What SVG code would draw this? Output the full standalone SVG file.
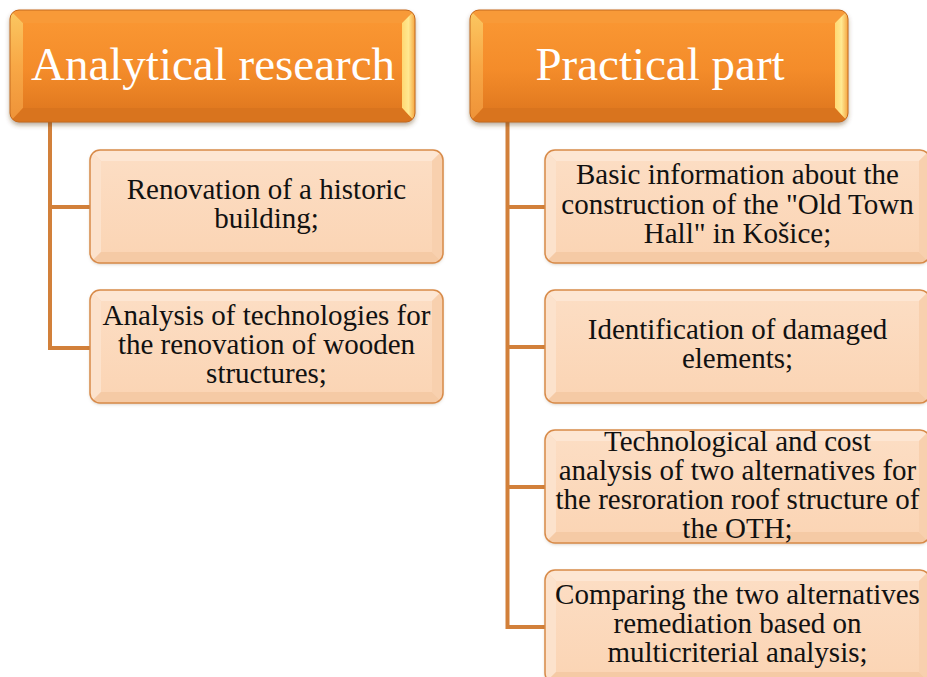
<svg xmlns="http://www.w3.org/2000/svg" xmlns:xlink="http://www.w3.org/1999/xlink" width="927" height="677" viewBox="0 0 927 677">
  <style>
    .head-text { font-family: "Liberation Serif", "Times New Roman", serif; font-size: 47px; fill: #ffffff; text-anchor: middle; }
    .item-text { font-family: "Liberation Serif", "Times New Roman", serif; font-size: 29px; fill: #111111; text-anchor: middle; }
    .link { fill: none; stroke: #D2803A; stroke-width: 4; stroke-linejoin: miter; }
  </style>
  <defs>
    <filter id="headShadow" x="-10%" y="-20%" width="120%" height="150%">
      <feDropShadow dx="0" dy="3" stdDeviation="2.5" flood-color="#5a3a1a" flood-opacity="0.45"/>
    </filter>
    <filter id="itemShadow" x="-10%" y="-20%" width="120%" height="150%">
      <feDropShadow dx="0" dy="1.5" stdDeviation="1.5" flood-color="#7a5a3a" flood-opacity="0.3"/>
    </filter>

    <linearGradient id="headFace" x1="0" y1="0" x2="0" y2="1">
      <stop offset="0" stop-color="#F99632"/>
      <stop offset="0.55" stop-color="#F48C2A"/>
      <stop offset="1" stop-color="#E27A20"/>
    </linearGradient>
    <linearGradient id="headLeft" x1="0" y1="0" x2="0" y2="1">
      <stop offset="0" stop-color="#FBC862"/>
      <stop offset="0.5" stop-color="#F8A846"/>
      <stop offset="1" stop-color="#EE9238"/>
    </linearGradient>
    <linearGradient id="headRight" x1="0" y1="0" x2="1" y2="0">
      <stop offset="0" stop-color="#FFD873"/>
      <stop offset="0.5" stop-color="#FFE890"/>
      <stop offset="1" stop-color="#F6A540"/>
    </linearGradient>
    <linearGradient id="itemFace" x1="0" y1="0" x2="0" y2="1">
      <stop offset="0" stop-color="#FCDDC3"/>
      <stop offset="1" stop-color="#FBD5B5"/>
    </linearGradient>

    <clipPath id="clipHeadL"><rect x="0" y="0" width="405" height="112" rx="9"/></clipPath>
    <clipPath id="clipHeadR"><rect x="0" y="0" width="378" height="112" rx="9"/></clipPath>
    <clipPath id="clipItemL"><rect x="0" y="0" width="353" height="113" rx="10"/></clipPath>
    <clipPath id="clipItemR"><rect x="0" y="0" width="385" height="113" rx="10"/></clipPath>

    <!-- bevelled orange title block, 405 wide -->
    <g id="headShapeL">
      <g filter="url(#headShadow)">
        <rect x="0" y="0" width="405" height="112" rx="9" fill="#EE8526"/>
      </g>
      <g clip-path="url(#clipHeadL)">
        <rect x="13" y="13" width="379" height="85" fill="url(#headFace)"/>
        <polygon points="0,0 405,0 392,13 13,13" fill="#F89A38"/>
        <polygon points="0,0 13,13 13,98 0,112" fill="url(#headLeft)"/>
        <polygon points="405,0 392,13 392,98 405,112" fill="url(#headRight)"/>
        <polygon points="0,112 13,98 392,98 405,112" fill="#D9741E"/>
      </g>
      <rect x="0" y="0" width="405" height="112" rx="9" fill="none" stroke="#C46A1E" stroke-width="1"/>
    </g>

    <!-- bevelled orange title block, 378 wide -->
    <g id="headShapeR">
      <g filter="url(#headShadow)">
        <rect x="0" y="0" width="378" height="112" rx="9" fill="#EE8526"/>
      </g>
      <g clip-path="url(#clipHeadR)">
        <rect x="13" y="13" width="352" height="85" fill="url(#headFace)"/>
        <polygon points="0,0 378,0 365,13 13,13" fill="#F89A38"/>
        <polygon points="0,0 13,13 13,98 0,112" fill="url(#headLeft)"/>
        <polygon points="378,0 365,13 365,98 378,112" fill="url(#headRight)"/>
        <polygon points="0,112 13,98 365,98 378,112" fill="#D9741E"/>
      </g>
      <rect x="0" y="0" width="378" height="112" rx="9" fill="none" stroke="#C46A1E" stroke-width="1"/>
    </g>

    <!-- peach item box, 353 wide -->
    <g id="itemShapeL">
      <g filter="url(#itemShadow)">
        <rect x="0" y="0" width="353" height="113" rx="10" fill="#FBD9BC"/>
      </g>
      <g clip-path="url(#clipItemL)">
        <rect x="11" y="11" width="331" height="91" fill="url(#itemFace)"/>
        <polygon points="0,0 353,0 342,11 11,11" fill="#FDE6D3"/>
        <polygon points="0,0 11,11 11,102 0,113" fill="#FCE2CC"/>
        <polygon points="353,0 342,11 342,102 353,113" fill="#F8D0AE"/>
        <polygon points="0,113 11,102 342,102 353,113" fill="#F5CAA5"/>
      </g>
      <rect x="0" y="0" width="353" height="113" rx="10" fill="none" stroke="#D88A48" stroke-width="1.5"/>
    </g>

    <!-- peach item box, 385 wide -->
    <g id="itemShapeR">
      <g filter="url(#itemShadow)">
        <rect x="0" y="0" width="385" height="113" rx="10" fill="#FBD9BC"/>
      </g>
      <g clip-path="url(#clipItemR)">
        <rect x="11" y="11" width="363" height="91" fill="url(#itemFace)"/>
        <polygon points="0,0 385,0 374,11 11,11" fill="#FDE6D3"/>
        <polygon points="0,0 11,11 11,102 0,113" fill="#FCE2CC"/>
        <polygon points="385,0 374,11 374,102 385,113" fill="#F8D0AE"/>
        <polygon points="0,113 11,102 374,102 385,113" fill="#F5CAA5"/>
      </g>
      <rect x="0" y="0" width="385" height="113" rx="10" fill="none" stroke="#D88A48" stroke-width="1.5"/>
    </g>
  </defs>

  <rect x="0" y="0" width="927" height="677" fill="#ffffff"/>

  <!-- hierarchy lines -->
  <g id="connectors">
    <path class="link" d="M50 122 V348 H90 M50 207 H90"/>
    <path class="link" d="M507.5 122 V627 H545 M507.5 207 H545 M507.5 347 H545 M507.5 487 H545"/>
  </g>

  <!-- left column -->
  <g id="analytical-research" transform="translate(10,10)">
    <use xlink:href="#headShapeL"/>
    <text class="head-text" x="203" y="70">Analytical research</text>
  </g>

  <g id="renovation-historic" transform="translate(90,150)">
    <use xlink:href="#itemShapeL"/>
    <text class="item-text" x="176.5" y="49">Renovation of a historic</text>
    <text class="item-text" x="176.5" y="78">building;</text>
  </g>

  <g id="analysis-technologies" transform="translate(90,290)">
    <use xlink:href="#itemShapeL"/>
    <text class="item-text" x="176.5" y="34.5">Analysis of technologies for</text>
    <text class="item-text" x="176.5" y="63.5">the renovation of wooden</text>
    <text class="item-text" x="176.5" y="92.5">structures;</text>
  </g>

  <!-- right column -->
  <g id="practical-part" transform="translate(470,10)">
    <use xlink:href="#headShapeR"/>
    <text class="head-text" x="190" y="70">Practical part</text>
  </g>

  <g id="basic-information" transform="translate(545,150)">
    <use xlink:href="#itemShapeR"/>
    <text class="item-text" x="192.5" y="34">Basic information about the</text>
    <text class="item-text" x="192.5" y="63.5">construction of the "Old Town</text>
    <text class="item-text" x="192.5" y="93">Hall" in Košice;</text>
  </g>

  <g id="damaged-elements" transform="translate(545,290)">
    <use xlink:href="#itemShapeR"/>
    <text class="item-text" x="192.5" y="49">Identification of damaged</text>
    <text class="item-text" x="192.5" y="78">elements;</text>
  </g>

  <g id="cost-analysis" transform="translate(545,430)">
    <use xlink:href="#itemShapeR"/>
    <text class="item-text" x="192.5" y="21">Technological and cost</text>
    <text class="item-text" x="192.5" y="50">analysis of two alternatives for</text>
    <text class="item-text" x="192.5" y="79">the resroration roof structure of</text>
    <text class="item-text" x="192.5" y="108">the OTH;</text>
  </g>

  <g id="comparing-alternatives" transform="translate(545,570)">
    <use xlink:href="#itemShapeR"/>
    <text class="item-text" x="192.5" y="34">Comparing the two alternatives</text>
    <text class="item-text" x="192.5" y="63">remediation based on</text>
    <text class="item-text" x="192.5" y="92">multicriterial analysis;</text>
  </g>
</svg>
